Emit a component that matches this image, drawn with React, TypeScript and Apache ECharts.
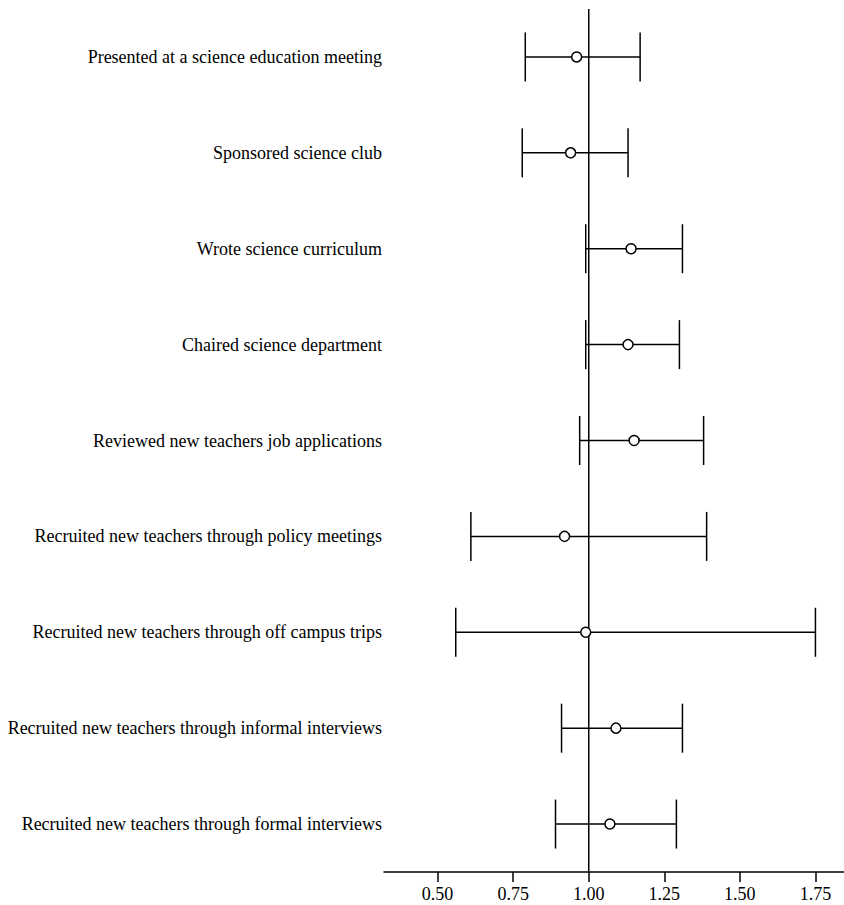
import React, { useEffect, useRef } from "react";
import * as echarts from "echarts";

// Activities (top to bottom) with odds ratios and 95% confidence bounds
const activities = [
  "Presented at a science education meeting",
  "Sponsored science club",
  "Wrote science curriculum",
  "Chaired science department",
  "Reviewed new teachers job applications",
  "Recruited new teachers through policy meetings",
  "Recruited new teachers through off campus trips",
  "Recruited new teachers through informal interviews",
  "Recruited new teachers through formal interviews",
];
const estimates = [0.96, 0.94, 1.14, 1.13, 1.15, 0.92, 0.99, 1.09, 1.07];
const lowerBounds = [0.79, 0.78, 0.99, 0.99, 0.97, 0.61, 0.56, 0.91, 0.89];
const upperBounds = [1.17, 1.13, 1.31, 1.3, 1.38, 1.39, 1.75, 1.31, 1.29];
const tickValues = [0.5, 0.75, 1.0, 1.25, 1.5, 1.75];
const referenceValue = 1.0;

const FONT = "'Liberation Serif', 'Times New Roman', serif";
const INK = { stroke: "#000", lineWidth: 1.5, fill: "none" };

export default function App() {
  const ref = useRef<HTMLDivElement>(null);

  useEffect(() => {
    if (!ref.current) return;
    const chart = echarts.init(ref.current, undefined, { renderer: "svg" });

    const intervalData = activities.map((_, i) => [lowerBounds[i], upperBounds[i], i]);
    const pointData = activities.map((_, i) => [estimates[i], i]);

    chart.setOption({
      animation: false,
      backgroundColor: "#fff",
      grid: { left: 384, right: 0, top: 9, bottom: 33, containLabel: false },
      xAxis: {
        type: "value",
        min: 0.3226,
        max: 1.8445,
        splitLine: { show: false },
        axisLine: { show: true, onZero: false, lineStyle: { color: "#000", width: 1.5 } },
        axisTick: {
          show: true,
          length: 10,
          customValues: tickValues,
          lineStyle: { color: "#000", width: 1.5 },
        },
        axisLabel: {
          customValues: tickValues,
          formatter: (v: number) => v.toFixed(2),
          color: "#000",
          fontFamily: FONT,
          fontSize: 18,
          margin: 13,
        },
      },
      yAxis: {
        type: "category",
        data: activities,
        inverse: true,
        axisLine: { show: false },
        axisTick: { show: false },
        splitLine: { show: false },
        axisLabel: {
          color: "#000",
          fontFamily: FONT,
          fontSize: 18,
          margin: 2,
        },
      },
      series: [
        {
          // vertical reference line at OR = 1, spanning the plot height
          type: "custom",
          data: [[referenceValue, 0]],
          renderItem: (params: any, api: any) => {
            const cs = params.coordSys;
            const x = api.coord([api.value(0), 0])[0];
            return {
              type: "line",
              shape: { x1: x, y1: cs.y, x2: x, y2: cs.y + cs.height },
              style: INK,
            };
          },
          z: 1,
        },
        {
          // confidence interval whiskers with end caps
          type: "custom",
          data: intervalData,
          encode: { x: [0, 1], y: 2 },
          renderItem: (_params: any, api: any) => {
            const idx = api.value(2);
            const lo = api.coord([api.value(0), idx]);
            const hi = api.coord([api.value(1), idx]);
            const half = 24.5;
            return {
              type: "group",
              children: [
                { type: "line", shape: { x1: lo[0], y1: lo[1], x2: hi[0], y2: hi[1] }, style: INK },
                { type: "line", shape: { x1: lo[0], y1: lo[1] - half, x2: lo[0], y2: lo[1] + half }, style: INK },
                { type: "line", shape: { x1: hi[0], y1: hi[1] - half, x2: hi[0], y2: hi[1] + half }, style: INK },
              ],
            };
          },
          z: 2,
        },
        {
          // point estimates
          type: "scatter",
          data: pointData,
          symbol: "circle",
          symbolSize: 10,
          itemStyle: { color: "#fff", borderColor: "#000", borderWidth: 1.5, opacity: 1 },
          z: 3,
        },
      ],
    });

    return () => chart.dispose();
  }, []);

  return (
    <div
      ref={ref}
      style={{ position: "fixed", left: 0, top: 0, width: 844, height: 905, background: "#fff" }}
    />
  );
}
